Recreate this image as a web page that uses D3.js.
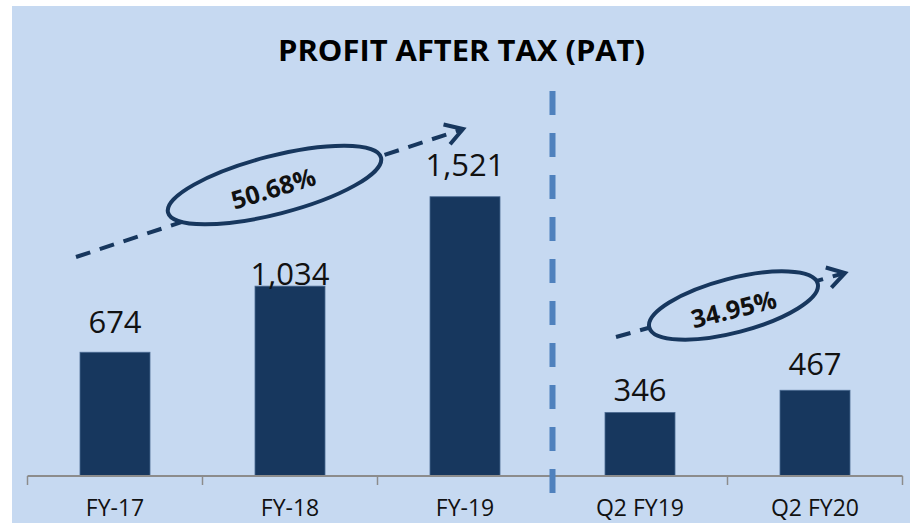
<!DOCTYPE html>
<html>
<head>
<meta charset="utf-8">
<script src="https://cdn.jsdelivr.net/npm/d3@7"></script>
<style>
  body { margin: 0; background: #fff; }
  text { font-family: "Open Sans", "Noto Sans", sans-serif; }
</style>
</head>
<body>
<div id="chart"></div>
<script>
// data
const categories = ["FY-17", "FY-18", "FY-19", "Q2 FY19", "Q2 FY20"]
const pat = [674, 1034, 1521, 346, 467]
const labels = ["674", "1,034", "1,521", "346", "467"]
const growth = ["50.68%", "34.95%"]

// gap between bar top and value label baseline (as placed in the original)
const LABEL_GAP = [19, 1, 21, 11, 15]

const W = 910, H = 523
const BASE = 476
const NAVY = "#17375e"

const svg = d3.select("#chart").append("svg")
  .attr("width", W)
  .attr("height", H)

// panel background
svg.append("rect")
  .attr("x", 12).attr("y", 6)
  .attr("width", W - 12).attr("height", H - 6)
  .attr("fill", "#c6d9f1")

// title
svg.append("text")
  .attr("x", 461.5).attr("y", 61)
  .attr("text-anchor", "middle")
  .attr("font-size", 28)
  .attr("font-weight", "bold")
  .attr("textLength", 367)
  .attr("lengthAdjust", "spacingAndGlyphs")
  .text("PROFIT AFTER TAX (PAT)")

// scales
const x = d3.scaleBand()
  .domain(categories)
  .range([27.5, 902.5])
  .paddingInner(0.6)
  .paddingOuter(0.3)

const y = d3.scaleLinear()
  .domain([0, 1800])
  .range([BASE, BASE - 330.5])

// bars
svg.selectAll("rect.bar")
  .data(pat)
  .enter().append("rect")
  .attr("class", "bar")
  .attr("x", (d, i) => x(categories[i]))
  .attr("y", d => y(d))
  .attr("width", x.bandwidth())
  .attr("height", d => BASE - y(d))
  .attr("fill", NAVY)
  .attr("stroke", "#4a6a92")
  .attr("stroke-width", 0.8)

// value labels
svg.selectAll("text.val")
  .data(pat)
  .enter().append("text")
  .attr("class", "val")
  .attr("x", (d, i) => x(categories[i]) + x.bandwidth() / 2)
  .attr("y", (d, i) => y(d) - LABEL_GAP[i])
  .attr("text-anchor", "middle")
  .attr("font-size", 31)
  .attr("fill", "#111")
  .text((d, i) => labels[i])

// x axis: line, ticks at band edges, labels under bands
const step = x.step()
const edges = categories.map(c => x(c) - step * 0.3).concat([x.range()[1]])
const axis = svg.append("g")
axis.append("line")
  .attr("x1", x.range()[0]).attr("x2", x.range()[1])
  .attr("y1", BASE).attr("y2", BASE)
  .attr("stroke", "#8c8c8c").attr("stroke-width", 2)
axis.selectAll("line.tick")
  .data(edges)
  .enter().append("line")
  .attr("class", "tick")
  .attr("x1", d => d).attr("x2", d => d)
  .attr("y1", BASE).attr("y2", BASE + 9)
  .attr("stroke", "#8c8c8c").attr("stroke-width", 1.5)
axis.selectAll("text")
  .data(categories)
  .enter().append("text")
  .attr("x", d => x(d) + x.bandwidth() / 2)
  .attr("y", 516)
  .attr("text-anchor", "middle")
  .attr("font-size", 23)
  .attr("fill", "#111")
  .text(d => d)

// divider between annual and quarterly
const divX = edges[3]
svg.append("line")
  .attr("x1", divX).attr("x2", divX)
  .attr("y1", 91).attr("y2", 493)
  .attr("stroke", "#4f81bd")
  .attr("stroke-width", 6)
  .attr("stroke-dasharray", "24 18")

// growth arrows with ellipse callouts
const notes = [
  {from: [76, 257], to: [463, 129], c: [274.5, 185], rx: 110, ry: 29, rot: -14.5, trot: -17, t: [276, 197]},
  {from: [616, 337], to: [845, 273], c: [733.5, 305.5], rx: 87, ry: 27, rot: -14.6, trot: -14, t: [736, 318]}
]

notes.forEach((n, i) => {
  const g = svg.append("g")
  g.append("line")
    .attr("x1", n.from[0]).attr("y1", n.from[1])
    .attr("x2", n.to[0]).attr("y2", n.to[1])
    .attr("stroke", NAVY)
    .attr("stroke-width", 4)
    .attr("stroke-dasharray", "15 10")
  // open chevron head
  const ang = Math.atan2(n.to[1] - n.from[1], n.to[0] - n.from[0])
  const len = 20, spread = 0.55
  const p1 = [n.to[0] - len * Math.cos(ang - spread), n.to[1] - len * Math.sin(ang - spread)]
  const p2 = [n.to[0] - len * Math.cos(ang + spread), n.to[1] - len * Math.sin(ang + spread)]
  g.append("path")
    .attr("d", d3.line()([p1, n.to, p2]))
    .attr("fill", "none")
    .attr("stroke", NAVY)
    .attr("stroke-width", 4)
  g.append("ellipse")
    .attr("cx", 0).attr("cy", 0)
    .attr("rx", n.rx).attr("ry", n.ry)
    .attr("transform", `translate(${n.c[0]},${n.c[1]}) rotate(${n.rot})`)
    .attr("fill", "#c6d9f1")
    .attr("stroke", NAVY)
    .attr("stroke-width", 4)
  g.append("text")
    .attr("transform", `translate(${n.t[0]},${n.t[1]}) rotate(${n.trot})`)
    .attr("text-anchor", "middle")
    .attr("font-size", 25)
    .attr("font-weight", "bold")
    .attr("fill", "#111")
    .text(growth[i])
})
</script>
</body>
</html>
